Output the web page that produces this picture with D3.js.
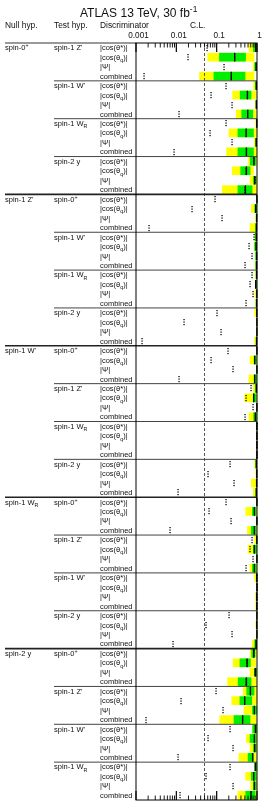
<!DOCTYPE html>
<html>
<head>
<meta charset="utf-8">
<script src="https://cdn.jsdelivr.net/npm/d3@7"></script>
<style>
  body { margin: 0; background: #fff; }
  svg { display: block; font-family: "Liberation Sans", Arial, sans-serif; }
  .txt { opacity: 0.999; }
</style>
</head>
<body>
<svg id="chart" width="271" height="809"></svg>
<script>
const nullHyps = ["spin-0^+", "spin-1 Z'", "spin-1 W'", "spin-1 W_R", "spin-2 y"];
const testHyps = [
    ["spin-1 Z'", "spin-1 W'", "spin-1 W_R", "spin-2 y"],
    ["spin-0^+", "spin-1 W'", "spin-1 W_R", "spin-2 y"],
    ["spin-0^+", "spin-1 Z'", "spin-1 W_R", "spin-2 y"],
    ["spin-0^+", "spin-1 Z'", "spin-1 W'", "spin-2 y"],
    ["spin-0^+", "spin-1 Z'", "spin-1 W'", "spin-1 W_R"]
];
const discriminators = ["|cos(θ*)|", "|cos(θ_q)|", "|Ψ|", "combined"];
const tickLabels = ["0.001", "0.01", "0.1", "1"];
const clLine = 0.05;

// one line per null hypothesis, 16 rows each (test hyp x discriminator)
const yellowLow = [
    0.62, 0.059, 0.79, 0.037, 0.81, 0.245, 0.89, 0.30, 0.91, 0.198, 0.84, 0.174, 0.61, 0.24, 0.66, 0.136,
    0.97, 0.71, 0.91, 0.66, 0.86, 0.84, 0.90, 0.89, 0.91, 0.89, 0.89, 0.91, 0.86, 0.97, 0.97, 0.86,
    0.97, 0.66, 0.97, 0.62, 0.80, 0.487, 0.97, 0.62, 0.97, 0.97, 0.97, 0.97, 0.86, 0.93, 0.71, 0.80,
    0.97, 0.515, 0.97, 0.568, 0.86, 0.59, 0.97, 0.66, 0.86, 0.966, 0.91, 0.91, 0.97, 0.93, 0.97, 0.755,
    0.667, 0.25, 0.66, 0.184, 0.45, 0.232, 0.467, 0.117, 0.755, 0.537, 0.66, 0.35, 0.86, 0.515, 0.686, 0.33
];
const greenLow = [
    0.80, 0.115, 0.86, 0.084, 0.89, 0.376, 0.93, 0.41, 0.95, 0.33, 0.91, 0.33, 0.667, 0.387, 0.80, 0.33,
    0.98, 0.86, 0.94, 0.91, 0.89, 0.86, 0.91, 0.91, 0.93, 0.91, 0.966, 0.93, 0.966, 0.98, 0.98, 0.93,
    0.98, 0.83, 0.98, 0.83, 0.90, 0.79, 0.98, 0.81, 0.98, 0.98, 0.98, 0.98, 0.91, 0.94, 0.94, 0.91,
    0.98, 0.755, 0.98, 0.71, 0.966, 0.80, 0.98, 0.755, 0.97, 0.98, 0.94, 0.966, 0.98, 0.94, 0.98, 0.86,
    0.726, 0.37, 0.84, 0.335, 0.546, 0.37, 0.755, 0.264, 0.769, 0.66, 0.80, 0.59, 0.86, 0.71, 0.80, 0.515
];
const median = [
    0.93, 0.28, 0.95, 0.23, 0.966, 0.578, 0.966, 0.59, 0.99, 0.537, 0.955, 0.546, 0.84, 0.546, 0.877, 0.515,
    0.995, 0.93, 0.98, 0.966, 0.966, 0.95, 0.98, 0.98, 0.98, 0.93, 0.99, 0.98, 0.99, 0.995, 0.995, 0.98,
    0.995, 0.877, 0.995, 0.877, 0.966, 0.83, 0.995, 0.91, 0.995, 0.995, 0.995, 0.995, 0.966, 0.99, 0.98, 0.966,
    0.995, 0.86, 0.995, 0.86, 0.99, 0.86, 0.995, 0.86, 0.99, 1.0, 0.99, 0.99, 0.995, 0.99, 0.995, 0.95,
    0.83, 0.568, 0.913, 0.546, 0.686, 0.495, 0.86, 0.44, 0.913, 0.86, 0.877, 0.78, 0.913, 0.83, 0.86, 0.71
];
const greenHigh = [
    0.97, 0.53, 1, 0.515, 1, 0.726, 1, 0.80, 1, 0.83, 1, 0.83, 0.94, 0.686, 0.966, 0.769,
    1, 1, 1, 1, 1, 1, 1, 1, 1, 1, 1, 1, 1, 1, 1, 1,
    1, 0.98, 1, 1, 1, 0.966, 1, 1, 1, 1, 1, 1, 1, 1, 1, 1,
    1, 0.966, 1, 0.966, 1, 1, 1, 0.966, 1, 1, 1, 1, 1, 1, 1, 1,
    0.913, 0.70, 0.99, 0.726, 0.86, 0.755, 1, 0.686, 1, 0.966, 0.966, 0.83, 1, 0.966, 0.966, 0.913
];
const yellowHigh = [
    1, 0.86, 1, 0.86, 1, 0.966, 1, 0.98, 1, 1, 1, 1, 0.99, 0.83, 0.99, 1,
    1, 1, 1, 1, 1, 1, 1, 1, 1, 1, 1, 1, 1, 1, 1, 1,
    1, 1, 1, 1, 1, 1, 1, 1, 1, 1, 1, 1, 1, 1, 1, 1,
    1, 1, 1, 1, 1, 1, 1, 1, 1, 1, 1, 1, 1, 1, 1, 1,
    1, 0.94, 1, 0.98, 1, 1, 1, 0.966, 1, 1, 1, 0.966, 1, 1, 1, 0.966
];
const dotted = [
    0.058, 0.019, 0.155, 0.0016, 0.17, 0.073, 0.245, 0.0114, 0.17, 0.070, 0.24, 0.0089, 0.86, 0.546, 0.877, 0.515,
    0.093, 0.0246, 0.136, 0.0021, 0.86, 0.62, 0.755, 0.495, 0.755, 0.686, 0.78, 0.537, 0.10, 0.0152, 0.131, 0.0014,
    0.19, 0.073, 0.25, 0.0119, 0.726, 0.546, 0.78, 0.515, 0.98, 0.98, 0.98, 0.98, 0.21, 0.06, 0.264, 0.011,
    0.174, 0.063, 0.232, 0.0071, 0.755, 0.66, 0.78, 0.546, 0.98, 0.98, 0.98, 0.98, 0.198, 0.054, 0.24, 0.0083,
    0.83, 0.568, 0.913, 0.546, 0.098, 0.0133, 0.14, 0.0018, 0.219, 0.06, 0.255, 0.0108, 0.21, 0.055, 0.25, 0.0126
];

const plotLeft = 136, plotRight = 257, plotTop = 43, plotBottom = 800;
const nRows = nullHyps.length * 4 * discriminators.length;

const svg = d3.select("#chart");

const x = d3.scaleLog().domain([0.001, 1]).range([plotLeft, plotRight]);
const y = d3.scaleBand().domain(d3.range(nRows)).range([plotTop, plotBottom]).padding(0);
const rowH = y.bandwidth();

// label with ^x / _x (or ^{..}) super/subscripts
function richLabel(g, px, py, str, size) {
    const t = g.append("text").attr("x", px).attr("y", py).attr("font-size", size).attr("fill", "#111");
    let shift = 0;
    str.split(/([\^_]\{[^}]*\}|[\^_].)/).filter(s => s).forEach(s => {
        if (s[0] === "^" || s[0] === "_") {
            const d = s[0] === "^" ? -size * 0.4 : size * 0.3;
            const content = s[1] === "{" ? s.slice(2, -1) : s.slice(1);
            t.append("tspan").attr("dy", d - shift).attr("font-size", size * 0.7).text(content);
            shift = d;
        } else {
            t.append("tspan").attr("dy", -shift).text(s);
            shift = 0;
        }
    });
    return t;
}

const textLayer = svg.append("g").attr("class", "txt");

// title + headers
richLabel(textLayer, 80, 17, "ATLAS 13 TeV, 30 fb^{-1}", 12);
[["Null hyp.", 5], ["Test hyp.", 54], ["Discriminator", 100], ["C.L.", 190]].forEach(([t, px]) => {
    textLayer.append("text").attr("x", px).attr("y", 28).attr("font-size", 8.4).attr("fill", "#111").text(t);
});

textLayer.append("g")
    .attr("transform", `translate(2,${plotTop - 2.5})`)
    .call(d3.axisTop(x).tickValues(tickLabels.map(Number)).tickSize(0).tickFormat((d, i) => tickLabels[i]))
    .call(g => g.select(".domain").remove())
    .call(g => g.selectAll("text").attr("font-size", 8.2).attr("font-family", null).attr("fill", "#111").attr("dy", 0));

// bands
const rows = d3.range(nRows).map(i => ({
    i, yl: yellowLow[i], gl: greenLow[i], md: median[i], gh: greenHigh[i], yh: yellowHigh[i], dt: dotted[i]
}));

const bands = svg.append("g");
bands.selectAll("rect.yellow").data(rows).join("rect")
    .attr("class", "yellow")
    .attr("x", d => x(d.yl)).attr("width", d => Math.max(0, x(d.yh) - x(d.yl)))
    .attr("y", d => y(d.i) + 0.4).attr("height", rowH - 0.8)
    .attr("fill", "#ffff00");
bands.selectAll("rect.green").data(rows).join("rect")
    .attr("class", "green")
    .attr("x", d => x(d.gl)).attr("width", d => Math.max(0, x(d.gh) - x(d.gl)))
    .attr("y", d => y(d.i) + 0.4).attr("height", rowH - 0.8)
    .attr("fill", "#00ee00");
bands.selectAll("line.median").data(rows).join("line")
    .attr("class", "median")
    .attr("x1", d => x(d.md)).attr("x2", d => x(d.md))
    .attr("y1", d => y(d.i) + 0.4).attr("y2", d => y(d.i) + rowH - 0.4)
    .attr("stroke", "#000").attr("stroke-width", 1.4);

// confidence level line
svg.append("line")
    .attr("x1", x(clLine)).attr("x2", x(clLine))
    .attr("y1", plotTop).attr("y2", plotBottom)
    .attr("stroke", "#555").attr("stroke-width", 1).attr("stroke-dasharray", "3,2");

// dotted markers: a short column of dots per row
const dotOffsets = [-3, -0.5, 2];
const dots = svg.append("g").attr("fill", "#000");
rows.forEach(d => {
    const cx = Math.round(x(d.dt)) - 0.6;
    const cy = Math.round(y(d.i) + rowH / 2);
    dotOffsets.forEach(o => {
        dots.append("rect").attr("x", cx).attr("y", cy + o).attr("width", 1.3).attr("height", 1.2);
    });
});

// row labels
nullHyps.forEach((nh, n) => {
    const r0 = n * 16;
    richLabel(textLayer, 5, y(r0) + rowH / 2 + 2.6, nh, 7.5);
    testHyps[n].forEach((th, t) => {
        const r1 = r0 + t * 4;
        richLabel(textLayer, 54, y(r1) + rowH / 2 + 2.6, th, 7.5);
        discriminators.forEach((dsc, k) => {
            richLabel(textLayer, 100, y(r1 + k) + rowH / 2 + 2.6, dsc, 7.5);
        });
    });
});

// separators
const sep = svg.append("g");
sep.append("line").attr("x1", 5).attr("x2", plotLeft).attr("y1", plotTop).attr("y2", plotTop)
    .attr("stroke", "#777").attr("stroke-width", 1.4);
d3.range(1, nRows / 4).forEach(b => {
    const isNull = b % 4 === 0;
    const yy = y(b * 4);
    sep.append("line")
        .attr("x1", isNull ? 5 : 54).attr("x2", plotRight)
        .attr("y1", yy).attr("y2", yy)
        .attr("stroke", isNull ? "#222" : "#444")
        .attr("stroke-width", isNull ? 1.6 : 1);
});

// frame + log ticks
const frame = svg.append("g");
frame.append("rect")
    .attr("x", plotLeft).attr("y", plotTop)
    .attr("width", plotRight - plotLeft).attr("height", plotBottom - plotTop)
    .attr("fill", "none").attr("stroke", "#000").attr("stroke-width", 1);

const ticks = x.ticks();
const isMajor = v => Math.abs(Math.log10(v) - Math.round(Math.log10(v))) < 1e-6;
frame.selectAll("line.ttop").data(ticks).join("line")
    .attr("x1", d => x(d)).attr("x2", d => x(d))
    .attr("y1", plotTop).attr("y2", d => plotTop + (isMajor(d) ? 9 : 4.5))
    .attr("stroke", "#000").attr("stroke-width", d => isMajor(d) ? 1.2 : 0.9);
frame.selectAll("line.tbot").data(ticks).join("line")
    .attr("x1", d => x(d)).attr("x2", d => x(d))
    .attr("y1", plotBottom).attr("y2", d => plotBottom - (isMajor(d) ? 9 : 4.5))
    .attr("stroke", "#000").attr("stroke-width", d => isMajor(d) ? 1.2 : 0.9);
</script>
</body>
</html>
